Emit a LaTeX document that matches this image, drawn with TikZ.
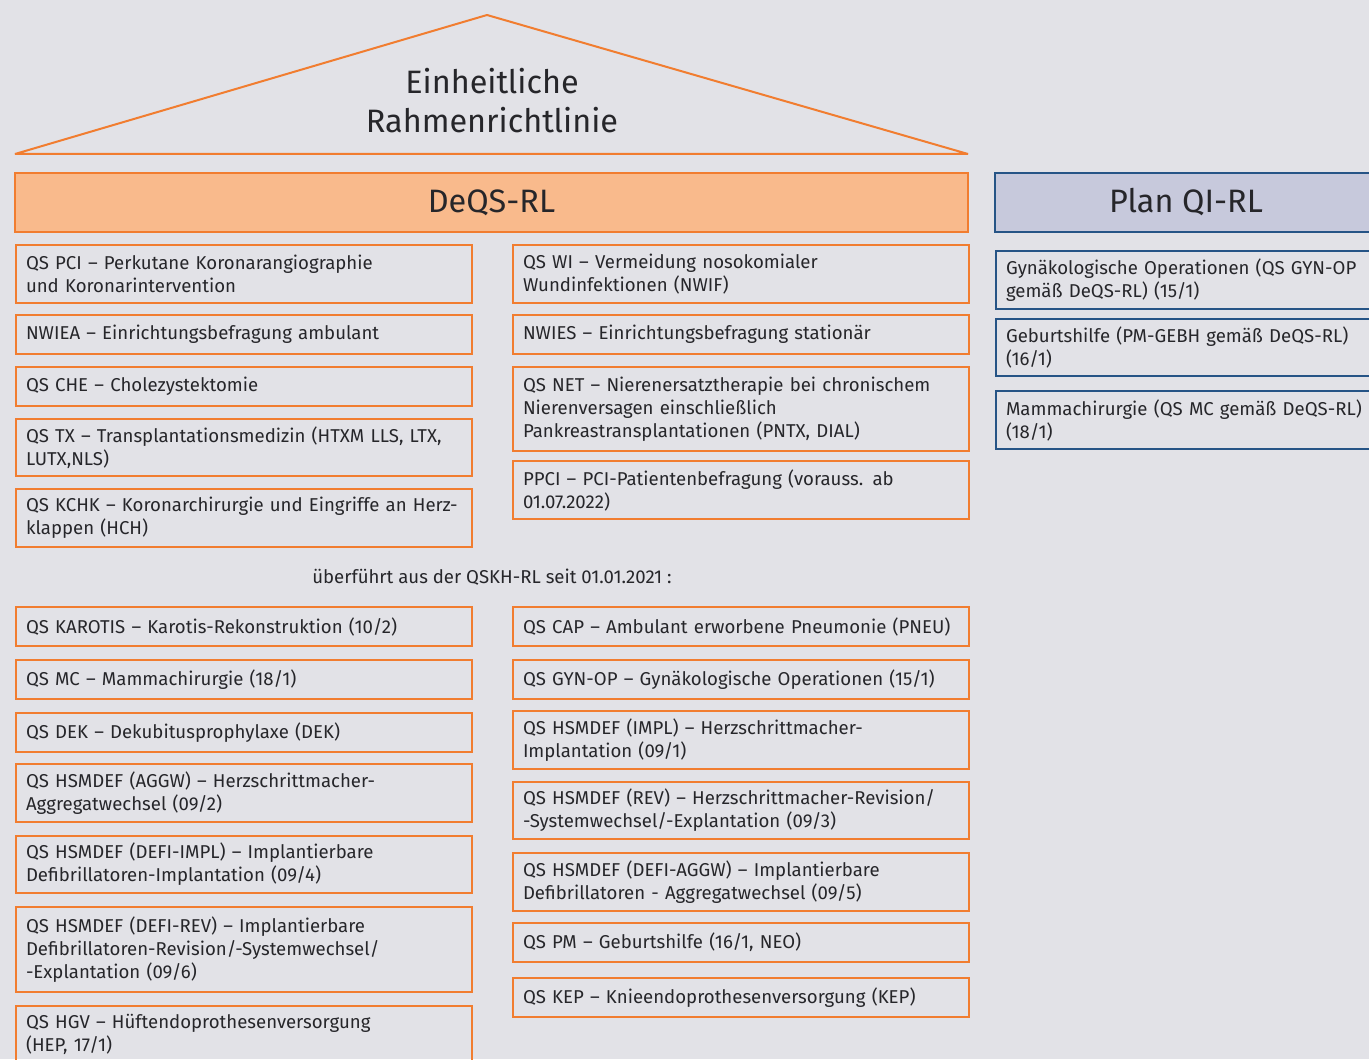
\documentclass[tikz,border=0pt]{standalone}
\usepackage{fontspec}
\setmainfont{Fira Sans}
\usetikzlibrary{positioning}

\definecolor{bggrey}{RGB}{226,226,231}
\definecolor{qsorange}{RGB}{241,125,48}
\definecolor{qspeach}{RGB}{249,186,140}
\definecolor{planfill}{RGB}{199,201,220}
\definecolor{planblue}{RGB}{38,84,134}
\definecolor{txtgrey}{RGB}{38,38,42}

\begin{document}
\begin{tikzpicture}[x=0.5pt, y=-0.5pt, node distance=5.5pt,
    every node/.style={text=txtgrey},
    smalltext/.style={font=\fontsize{9.3}{11.5}\selectfont},
    item/.style={smalltext, draw=qsorange, line width=1pt, anchor=north west,
      inner xsep=5pt, text width=218pt, align=left, minimum height=19.5pt},
    planitem/.style={item, draw=planblue, text width=182pt},
    two lines/.style={minimum height=28.8pt},
    three lines/.style={minimum height=42.3pt},
    header/.style={line width=1pt, minimum height=29.5pt,
      font=\fontsize{16.2}{19.5}\selectfont}]
  \useasboundingbox (0,0) rectangle (1369,1059);
  \clip (0,0) rectangle (1369,1059);
  \fill[bggrey] (0,0) rectangle (1369,1059);

  % roof
  \draw[qsorange, line width=1pt, line join=bevel] (15,154) -- (487,15) -- (968,154) -- cycle;
  \node[header, align=center, minimum height=0pt] (roof) at (492,101)
    {Einheitliche\\Rahmenrichtlinie};

  % headers
  \node[header, draw=qsorange, fill=qspeach, minimum width=476.5pt] (deqs)
    at (491.5,202.5) {DeQS-RL};
  \node[header, draw=planblue, fill=planfill, minimum width=191pt] (plan)
    at (1186,202.5) {Plan QI-RL};

  % DeQS-RL, left column
  \node[item, two lines] (pci) at (15,244)
    {QS PCI – Perkutane Koronarangiographie\\und Koronarintervention};
  \node[item, below=5pt of pci] (nwiea) {NWIEA – Einrichtungsbefragung ambulant};
  \node[item, below=of nwiea] (che) {QS CHE – Cholezystektomie};
  \node[item, two lines, below=of che] (tx)
    {QS TX – Transplantationsmedizin (HTXM LLS, LTX,\\LUTX,NLS)};
  \node[item, two lines, below=of tx] (kchk)
    {QS KCHK – Koronarchirurgie und Eingriffe an Herz-\\klappen (HCH)};

  % DeQS-RL, right column
  \node[item, two lines] (wi) at (512,244)
    {QS WI – Vermeidung nosokomialer\\Wundinfektionen (NWIF)};
  \node[item, below=5pt of wi] (nwies) {NWIES – Einrichtungsbefragung stationär};
  \node[item, three lines, below=of nwies] (net)
    {QS NET – Nierenersatztherapie bei chronischem\\Nierenversagen einschließlich\\Pankreastransplantationen (PNTX, DIAL)};
  \node[item, two lines, below=4pt of net] (ppci)
    {PPCI – PCI-Patientenbefragung (vorauss. ab\\01.07.2022)};

  \node[smalltext] (qskh) at (492,577) {überführt aus der QSKH-RL seit 01.01.2021 :};

  % from QSKH-RL, left column
  \node[item] (karotis) at (15,606) {QS KAROTIS – Karotis-Rekonstruktion (10/2)};
  \node[item, below=6pt of karotis] (mc) {QS MC – Mammachirurgie (18/1)};
  \node[item, below=6pt of mc] (dek) {QS DEK – Dekubitusprophylaxe (DEK)};
  \node[item, two lines, below=5pt of dek] (aggw)
    {QS HSMDEF (AGGW) – Herzschrittmacher-\\Aggregatwechsel (09/2)};
  \node[item, two lines, below=6pt of aggw] (defiimpl)
    {QS HSMDEF (DEFI-IMPL) – Implantierbare\\Defibrillatoren-Implantation (09/4)};
  \node[item, three lines, below=6pt of defiimpl] (defirev)
    {QS HSMDEF (DEFI-REV) – Implantierbare\\Defibrillatoren-Revision/-Systemwechsel/\\-Explantation (09/6)};
  \node[item, two lines, below=6pt of defirev] (hgv)
    {QS HGV – Hüftendoprothesenversorgung\\(HEP, 17/1)};

  % from QSKH-RL, right column
  \node[item] (cap) at (512,606) {QS CAP – Ambulant erworbene Pneumonie (PNEU)};
  \node[item, below=6pt of cap] (gynop) {QS GYN-OP – Gynäkologische Operationen (15/1)};
  \node[item, two lines, below=5pt of gynop] (impl)
    {QS HSMDEF (IMPL) – Herzschrittmacher-\\Implantation (09/1)};
  \node[item, two lines, below=of impl] (rev)
    {QS HSMDEF (REV) – Herzschrittmacher-Revision/\\-Systemwechsel/-Explantation (09/3)};
  \node[item, two lines, below=6pt of rev] (defiaggw)
    {QS HSMDEF (DEFI-AGGW) – Implantierbare\\Defibrillatoren - Aggregatwechsel (09/5)};
  \node[item, below=5pt of defiaggw] (pm) {QS PM – Geburtshilfe (16/1, NEO)};
  \node[item, below=7pt of pm] (kep) {QS KEP – Knieendoprothesenversorgung (KEP)};

  % Plan QI-RL
  \node[planitem, two lines] (gyn) at (995,250)
    {Gynäkologische Operationen (QS GYN-OP\\gemäß DeQS-RL) (15/1)};
  \node[planitem, two lines, below=4pt of gyn] (geb)
    {Geburtshilfe (PM-GEBH gemäß DeQS-RL)\\(16/1)};
  \node[planitem, two lines, below=6.5pt of geb] (mamma)
    {Mammachirurgie (QS MC gemäß DeQS-RL)\\(18/1)};
\end{tikzpicture}
\end{document}
